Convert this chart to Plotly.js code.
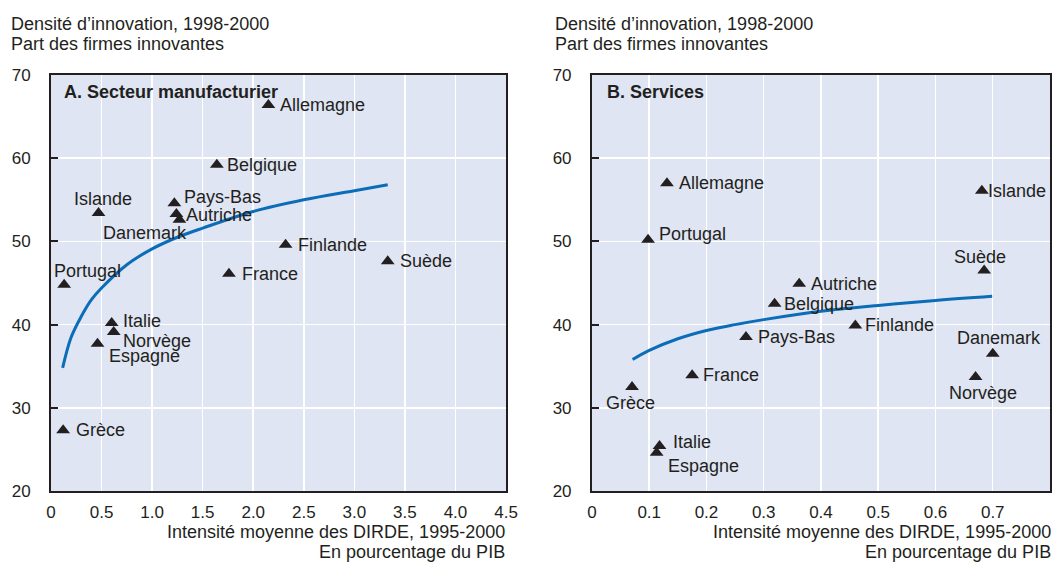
<!DOCTYPE html>
<html>
<head>
<meta charset="utf-8">
<script src="https://cdn.plot.ly/plotly-3.0.1.min.js"></script>
<style>html,body{margin:0;padding:0;background:#fff;}#chart{width:1056px;height:562px;}</style>
</head>
<body>
<div id="chart"></div>
<script>
// ---------- Data: Panel A (Secteur manufacturier) ----------
const countriesA = ["Allemagne","Belgique","Islande","Pays-Bas","Autriche","Danemark","Finlande","Suède","France","Portugal","Italie","Norvège","Espagne","Grèce"];
const rdA =        [2.15, 1.64, 0.47, 1.22, 1.24, 1.27, 2.32, 3.33, 1.76, 0.13, 0.60, 0.62, 0.46, 0.12];
const innovA =     [66.4, 59.2, 53.4, 54.6, 53.3, 52.6, 49.6, 47.6, 46.1, 44.8, 40.2, 39.1, 37.7, 27.3];
const fitXA = [0.115, 0.2, 0.3, 0.4, 0.5, 0.75, 1.0, 1.25, 1.5, 2.0, 2.5, 3.0, 3.33];
const fitYA = [34.8, 38.5, 41.0, 43.0, 44.4, 47.2, 49.1, 50.5, 51.6, 53.6, 55.0, 56.1, 56.8];

// ---------- Data: Panel B (Services) ----------
const countriesB = ["Allemagne","Islande","Portugal","Suède","Autriche","Belgique","Finlande","Pays-Bas","Danemark","France","Norvège","Grèce","Italie","Espagne"];
const rdB =        [0.131, 0.681, 0.098, 0.685, 0.362, 0.319, 0.460, 0.269, 0.700, 0.175, 0.670, 0.070, 0.118, 0.113];
const innovB =     [57.0, 56.1, 50.2, 46.5, 44.9, 42.5, 39.9, 38.5, 36.5, 33.9, 33.7, 32.5, 25.4, 24.6];
const fitXB = [0.071, 0.1, 0.15, 0.2, 0.25, 0.3, 0.4, 0.5, 0.6, 0.699];
const fitYB = [35.8, 36.9, 38.3, 39.3, 40.0, 40.6, 41.6, 42.3, 42.9, 43.4];

// ---------- Tick labels ----------
const xTickValsA = [0, 0.5, 1, 1.5, 2, 2.5, 3, 3.5, 4, 4.5];
const xTickTextA = ["0","0.5","1.0","1.5","2.0","2.5","3.0","3.5","4.0","4.5"];
const xTickValsB = [0, 0.1, 0.2, 0.3, 0.4, 0.5, 0.6, 0.7, 0.8];
const xTickTextB = ["0","0.1","0.2","0.3","0.4","0.5","0.6","0.7","0.8"];
const yTickVals = [20, 30, 40, 50, 60, 70];
const yTickText = ["20","30","40","50","60","70"];

// ---------- Text ----------
const yTitle1 = "Densité d’innovation, 1998-2000";
const yTitle2 = "Part des firmes innovantes";
const xTitle1 = "Intensité moyenne des DIRDE, 1995-2000";
const xTitle2 = "En pourcentage du PIB";
const panelA = "A. Secteur manufacturier";
const panelB = "B. Services";

// ---------- Label placement (style, px offsets) ----------
const placeA = {
  "Allemagne":[ "left", 10, 0], "Belgique":["left", 8, 0], "Islande":["center", 4, 14],
  "Pays-Bas":["left", 8, 6], "Autriche":["left", 8, -1], "Danemark":["right", 10, -13],
  "Finlande":["left", 10, 0], "Suède":["left", 10, 0], "France":["left", 11, 0],
  "Portugal":["center", 23, 14], "Italie":["left", 9, 2], "Norvège":["left", 7, -9],
  "Espagne":["left", 9, -12], "Grèce":["left", 11, 0]
};
const placeB = {
  "Allemagne":["left", 10, 0], "Islande":["left", 4, 0], "Portugal":["left", 9, 6],
  "Suède":["center", -4, 14], "Autriche":["left", 10, 0], "Belgique":["left", 7, 0],
  "Finlande":["left", 8, 0], "Pays-Bas":["left", 10, 0], "Danemark":["center", 6, 16],
  "France":["left", 9, 0], "Norvège":["center", 7, -16], "Grèce":["center", -2, -16],
  "Italie":["left", 11, 4], "Espagne":["left", 9, -13]
};

const TXT = "#231f20";
const FONT = "Liberation Sans, Arial, sans-serif";
const BLUE = "#0b6db7";

const traces = [
  {x: fitXA, y: fitYA, xaxis:"x", yaxis:"y", mode:"lines", line:{color:BLUE, width:3, shape:"spline"}, hoverinfo:"skip"},
  {x: rdA, y: innovA, xaxis:"x", yaxis:"y", mode:"markers", marker:{symbol:"triangle-up", size:12, color:TXT}},
  {x: fitXB, y: fitYB, xaxis:"x2", yaxis:"y2", mode:"lines", line:{color:BLUE, width:3, shape:"spline"}, hoverinfo:"skip"},
  {x: rdB, y: innovB, xaxis:"x2", yaxis:"y2", mode:"markers", marker:{symbol:"triangle-up", size:12, color:TXT}}
];

const annotations = [];
function addLabels(names, xs, ys, place, xr, yr) {
  names.forEach((n, i) => {
    const p = place[n];
    annotations.push({
      text: n, x: xs[i], y: ys[i], xref: xr, yref: yr, showarrow: false,
      xanchor: p[0], yanchor: "middle", xshift: p[1], yshift: p[2],
      font: {family: FONT, size: 18, color: TXT}
    });
  });
}
addLabels(countriesA, rdA, innovA, placeA, "x", "y");
addLabels(countriesB, rdB, innovB, placeB, "x2", "y2");

function paperText(text, x, y, xanchor, opts) {
  annotations.push(Object.assign({
    text: text, x: x, y: y, xref: "paper", yref: "paper", showarrow: false,
    xanchor: xanchor, yanchor: "middle", font: {family: FONT, size: 18, color: TXT}
  }, opts || {}));
}
// y titles (top-left of each panel)
paperText(yTitle1, -0.042, 1.1226, "left");
paperText(yTitle2, -0.042, 1.0745, "left");
paperText(yTitle1, 0.5025, 1.1226, "left");
paperText(yTitle2, 0.5025, 1.0745, "left");
// x titles (right aligned)
paperText(xTitle1, 0.4565, -0.0986, "right");
paperText(xTitle2, 0.4565, -0.1466, "right");
paperText(xTitle1, 1.003, -0.0986, "right");
paperText(xTitle2, 1.003, -0.1466, "right");
// panel labels
paperText(panelA, 0.011, 0.959, "left", {font:{family:FONT, size:18, color:TXT, weight:"bold"}});
paperText(panelB, 0.555, 0.959, "left", {font:{family:FONT, size:18, color:TXT, weight:"bold"}});

const xCommon = {
  showline: true, mirror: true, linecolor: TXT, linewidth: 2,
  showgrid: true, gridcolor: "#ffffff", gridwidth: 1.5, zeroline: false,
  ticks: "", tickfont: {family: FONT, size: 17, color: TXT}, ticklabelstandoff: 5
};
const yCommon = {
  range: [20, 70], tickvals: yTickVals, ticktext: yTickText,
  showline: true, mirror: true, linecolor: TXT, linewidth: 2,
  showgrid: true, gridcolor: "#ffffff", gridwidth: 1.5, zeroline: false,
  ticks: "inside", ticklen: 7, tickwidth: 2, tickcolor: TXT,
  tickfont: {family: FONT, size: 17, color: TXT}, ticklabelstandoff: 15
};

const layout = {
  width: 1056, height: 562,
  margin: {l: 51, r: 6, t: 75, b: 71},
  paper_bgcolor: "#ffffff", plot_bgcolor: "#dfe5f3",
  showlegend: false,
  xaxis: Object.assign({}, xCommon, {domain: [0, 0.4555], range: [0, 4.5], tickvals: xTickValsA, ticktext: xTickTextA, anchor: "y"}),
  yaxis: Object.assign({}, yCommon, {domain: [0, 1], anchor: "x"}),
  xaxis2: Object.assign({}, xCommon, {domain: [0.5415, 1], range: [0, 0.8], tickvals: xTickValsB, ticktext: xTickTextB, anchor: "y2"}),
  yaxis2: Object.assign({}, yCommon, {domain: [0, 1], anchor: "x2"}),
  annotations: annotations
};

Plotly.newPlot("chart", traces, layout, {displayModeBar: false, staticPlot: true});
</script>
</body>
</html>
